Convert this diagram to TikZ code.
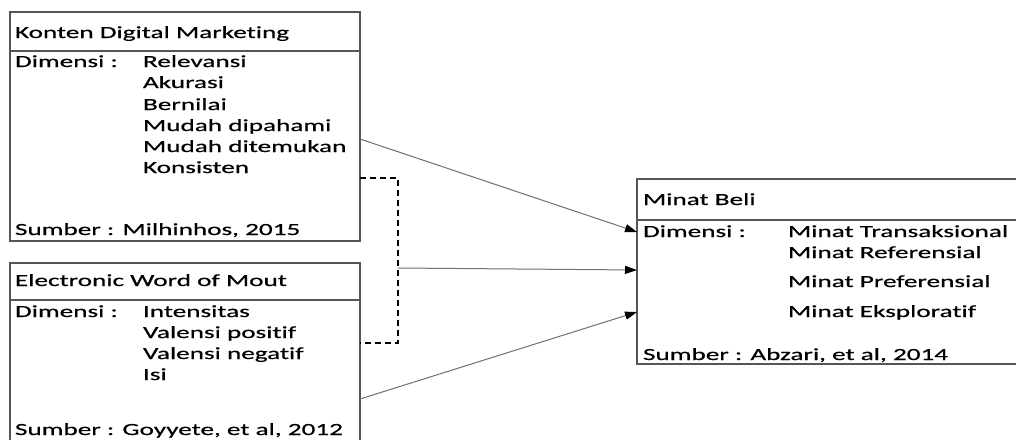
\documentclass[tikz,border=0pt]{standalone}
\usepackage{fontspec}
\setmainfont[FakeStretch=1.6,FakeBold=0.6,Ligatures=NoCommon]{Carlito}
\usetikzlibrary{arrows.meta}
\definecolor{boxgray}{HTML}{555555}
\definecolor{linegray}{HTML}{707070}
\tikzset{
  box/.style={draw=boxgray, line width=1.2pt, rectangle, anchor=north west, inner sep=0pt, outer sep=0pt},
  divider/.style={draw=boxgray, line width=1.2pt},
  txt/.style={anchor=base west, inner sep=0pt, outer sep=0pt, font=\fontsize{17}{20}\selectfont},
  conn/.style={draw=linegray, line width=1pt, -{Triangle[length=12pt,width=8pt,color=black]}},
  dashlink/.style={draw=black, line width=1.2pt, dash pattern=on 6pt off 4pt}
}
\begin{document}
\begin{tikzpicture}[x=1pt,y=-1pt]
\clip (0,0) rectangle (1016,439);
\fill[white] (0,0) rectangle (1016,439);
% boxes
\node[box, minimum width=350pt, minimum height=229pt] (b1) at (10,12) {};
\node[box, minimum width=350pt, minimum height=200pt] (b2) at (10,263) {};
\node[box, minimum width=400pt, minimum height=185pt] (b3) at (637,179) {};
\draw[divider] (b1.west |- 0,51) -- (b1.east |- 0,51);
\draw[divider] (b2.west |- 0,300) -- (b2.east |- 0,300);
\draw[divider] (b3.west |- 0,220) -- (b3.east |- 0,220);
% box 1 text
\node[txt] (t1) at (15,38) {Konten Digital Marketing};
\node[txt] (d1) at (15,67) {Dimensi :};
\node[txt] (i11) at (143,67) {Relevansi};
\node[txt] (i12) at (143,88) {Akurasi};
\node[txt] (i13) at (143,110) {Bernilai};
\node[txt] (i14) at (143,131) {Mudah dipahami};
\node[txt] (i15) at (143,152) {Mudah ditemukan};
\node[txt] (i16) at (143,173) {Konsisten};
\node[txt] (s1) at (15,235) {Sumber : Milhinhos, 2015};
% box 2 text
\node[txt] (t2) at (15,286) {Electronic Word of Mout};
\node[txt] (d2) at (15,317) {Dimensi :};
\node[txt] (i21) at (143,317) {Intensitas};
\node[txt] (i22) at (143,338) {Valensi positif};
\node[txt] (i23) at (143,359) {Valensi negatif};
\node[txt] (i24) at (143,380) {Isi};
\node[txt] (s2) at (15,435) {Sumber : Goyyete, et al, 2012};
% box 3 text
\node[txt] (t3) at (643,205) {Minat Beli};
\node[txt] (d3) at (643,237) {Dimensi :};
\node[txt] (i31) at (788,237) {Minat Transaksional};
\node[txt] (i32) at (788,258) {Minat Referensial};
\node[txt] (i33) at (788,287) {Minat Preferensial};
\node[txt] (i34) at (788,317) {Minat Eksploratif};
\node[txt] (s3) at (643,360) {Sumber : Abzari, et al, 2014};
% connectors
\coordinate (br) at (398,268);
\draw[dashlink] (b1.east |- 0,178) -| (br) |- (b2.east |- 0,343);
\draw[conn] (b1.east |- 0,139) -- (b3.west |- 0,232);
\draw[conn] (br) -- (b3.west |- 0,270);
\draw[conn] (b2.east |- 0,399) -- (b3.west |- 0,312);
\end{tikzpicture}
\end{document}
